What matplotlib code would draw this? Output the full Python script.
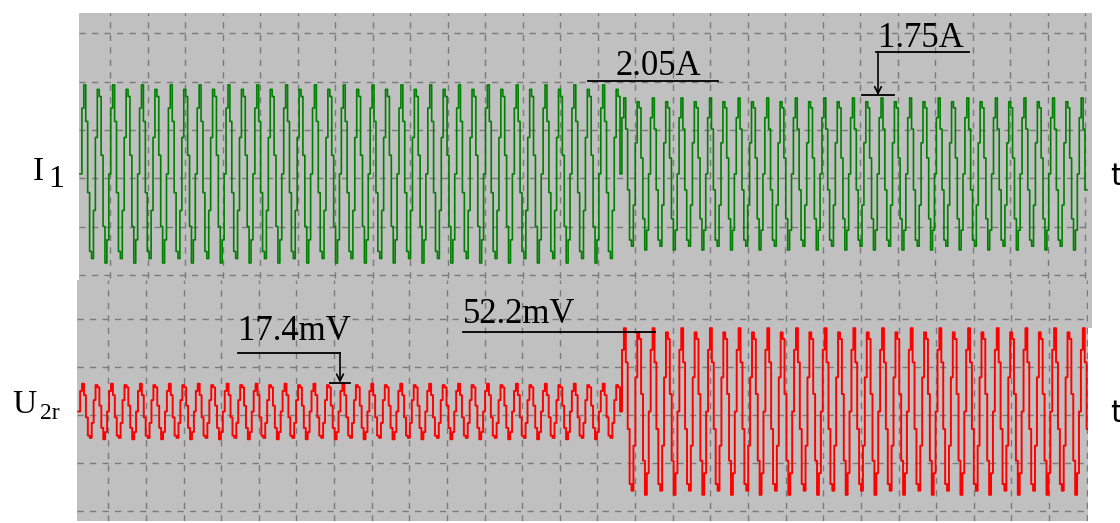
import numpy as np
import matplotlib.pyplot as plt

# values
i1_peak = [2.05, 1.75]          # A, before / after switching
u2r_peak = [17.4, 52.2]         # mV, before / after switching
n_cycles = [37.5, 32.7]         # periods counted before / after switching
t_start, t_switch, t_end = -0.8, 13.6, 26.05   # time, grid divisions
# two periods of the stepped (sampled) waveform, normalised step levels
cycle_shape = [0.0, 0.74, 1.0, 0.59, -0.21, -0.87, -0.95, -0.41,
               0.41, 0.95, 0.87, 0.21, -0.59, -1.0, -0.74]
cycles_in_shape = 2

i1_per_div = 1.112              # A / division
u2r_per_div = 30.0              # mV / division

W, H = 1120, 523
BG = '#c0c0c0'
GRID = '#7a7a7a'


def stepped(peaks, cycles, t0, t1, t2):
    t_parts, y_parts = [], []
    bounds = [(t0, t1), (t1, t2)]
    per_cycle = len(cycle_shape) / cycles_in_shape
    for peak, nc, (a, b) in zip(peaks, cycles, bounds):
        n = int(round(nc * per_cycle))
        reps = n // len(cycle_shape) + 1
        y = np.tile(cycle_shape, reps)[:n] * peak
        t = np.linspace(a, b, n, endpoint=False)
        t_parts.append(t)
        y_parts.append(y)
    t = np.concatenate(t_parts + [[t2]])
    y = np.concatenate(y_parts + [[y_parts[-1][-1]]])
    return t, y


def px_axes(fig, x0, y0, x1, y1):
    return fig.add_axes([x0 / W, 1 - y1 / H, (x1 - x0) / W, (y1 - y0) / H])


def style(ax, xt, yt):
    ax.set_facecolor(BG)
    for s in ax.spines.values():
        s.set_visible(False)
    ax.set_xticks(xt)
    ax.set_yticks(yt)
    ax.tick_params(length=0, labelbottom=False, labelleft=False)
    ax.grid(True, color=GRID, linestyle=(0, (4.5, 4.5)), linewidth=1.0)
    ax.set_axisbelow(True)


fig = plt.figure(figsize=(W / 100, H / 100), dpi=100)
fig.patch.set_facecolor('white')

# upper screen: I1
ax1 = px_axes(fig, 79, 13, 1092, 328)
ax1.set_xlim((79 - 110) / 37.5, (1092 - 110) / 37.5)
ax1.set_ylim((178.3 - 328) / 48.3, (178.3 - 13) / 48.3)
style(ax1, np.arange(0, 27), np.arange(-3, 4))
t, y = stepped(i1_peak, n_cycles, t_start, t_switch, t_end)
ax1.step(t, 0.09 + y / i1_per_div, where='post', color='#008000', lw=1.2)

serif = 'Liberation Serif'
ax1.plot([12.75, 16.21], [2.015, 2.015], color='black', lw=1.3)
ax1.text(13.47, 2.14, '2.05A', fontsize=25, family=serif, va='baseline')
ax1.plot([20.43, 22.9], [2.62, 2.62], color='black', lw=1.3)
ax1.annotate('', xy=(20.48, 1.72), xytext=(20.48, 2.62),
             arrowprops=dict(arrowstyle='->', color='black', lw=1.2,
                             shrinkA=0, shrinkB=0, mutation_scale=12))
ax1.plot([20.05, 20.9], [1.72, 1.72], color='black', lw=1.3)
ax1.text(20.48, 2.72, '1.75A', fontsize=25, family=serif, va='baseline')

# lower screen: U2r
ax2 = px_axes(fig, 77, 280, 1088, 521)
ax2.set_zorder(ax1.get_zorder() + 1)
ax2.set_xlim((77 - 108.3) / 37.63, (1088 - 108.3) / 37.63)
ax2.set_ylim((415 - 521) / 47.9, (415 - 280) / 47.9)
style(ax2, np.arange(0, 27), np.arange(-2, 3))
t, y = stepped(u2r_peak, n_cycles, t_start, t_switch, t_end)
ax2.step(t, 0.073 + y / u2r_per_div, where='post', color='#ff0000', lw=1.4)

ax2.plot([3.445, 6.157], [1.30, 1.30], color='black', lw=1.3)
ax2.annotate('', xy=(6.157, 0.674), xytext=(6.157, 1.30),
             arrowprops=dict(arrowstyle='->', color='black', lw=1.2,
                             shrinkA=0, shrinkB=0, mutation_scale=12))
ax2.plot([5.89, 6.425], [0.674, 0.674], color='black', lw=1.3)
ax2.text(3.445, 1.566, '17.4mV', fontsize=25, family=serif, va='baseline')
ax2.plot([9.43, 14.53], [1.74, 1.74], color='black', lw=1.3)
ax2.text(9.43, 1.92, '52.2mV', fontsize=25, family=serif, va='baseline')

# channel labels
fig.text(33 / W, 1 - 180 / H, 'I', fontsize=24, family=serif, va='baseline')
fig.text(48 / W, 1 - 187 / H, '1', fontsize=23, family=serif, va='baseline')
fig.text(12 / W, 1 - 413 / H, 'U', fontsize=24, family=serif, va='baseline')
fig.text(40 / W, 1 - 419 / H, '2r', fontsize=17, family=serif, va='baseline')
fig.text(1110 / W, 1 - 185 / H, 't', fontsize=22, va='baseline')
fig.text(1110 / W, 1 - 422 / H, 't', fontsize=22, va='baseline')

fig.savefig('out.png', dpi=100, facecolor='white')
